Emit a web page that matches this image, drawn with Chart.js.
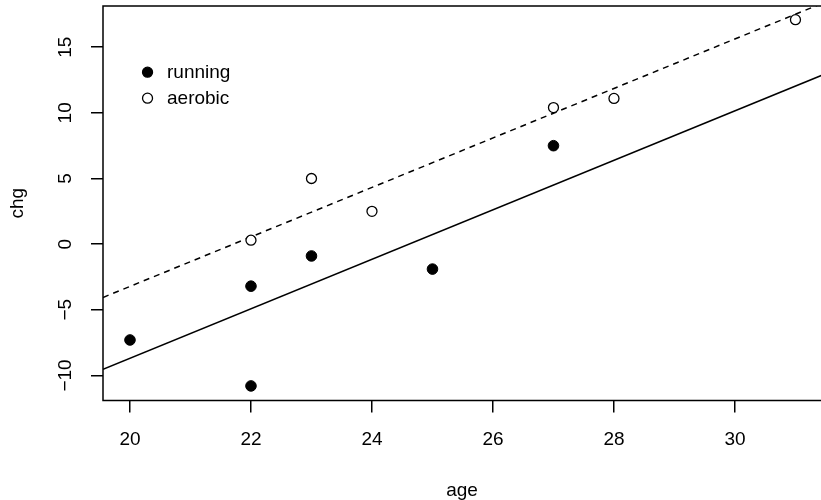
<!DOCTYPE html>
<html>
<head>
<meta charset="utf-8">
<script src="https://cdn.jsdelivr.net/npm/chart.js@4/dist/chart.umd.min.js"></script>
<style>
  html, body { margin: 0; padding: 0; background: #fff; overflow: hidden; }
  #wrap { width: 821px; height: 500px; }
</style>
</head>
<body>
<div id="wrap"><canvas id="c" width="821" height="500"></canvas></div>
<script>
// ---- data ----
const runningAge = [20, 22, 22, 23, 25, 27];
const runningChg = [-7.3, -10.8, -3.2, -0.9, -1.9, 7.5];
const aerobicAge = [22, 23, 24, 27, 28, 31];
const aerobicChg = [0.3, 5.0, 2.5, 10.4, 11.1, 17.1];
// fitted parallel lines (endpoints at the plot range)
const lineAge = [19.554, 31.438];
const runningFit = [-9.53, 12.87];
const aerobicFit = [-4.06, 18.34];
const xTicks = [20, 22, 24, 26, 28, 30];
const yTicks = [-10, -5, 0, 5, 10, 15];
const xRange = [19.554, 31.422];   // right edge of the plot box lies just past the picture
const yRange = [-11.91, 18.14];
const seriesNames = ['running', 'aerobic'];

const FONT = '"Liberation Sans", Arial, Helvetica, sans-serif';
const zip = (xs, ys) => xs.map((x, i) => ({ x: x, y: ys[i] }));

// R-style box: left, top and bottom sides (the right side is off-picture)
const boxPlugin = {
  id: 'box',
  afterDraw(chart) {
    const { ctx, chartArea: a } = chart;
    ctx.save();
    ctx.strokeStyle = '#000';
    ctx.lineWidth = 1.5;
    ctx.beginPath();
    ctx.moveTo(a.right + 2, a.top);
    ctx.lineTo(a.left, a.top);
    ctx.lineTo(a.left, a.bottom);
    ctx.lineTo(a.right + 2, a.bottom);
    ctx.stroke();
    ctx.restore();
  }
};

const legendPlugin = {
  id: 'rlegend',
  afterDraw(chart) {
    const { ctx } = chart;
    const xs = chart.scales.x, ys = chart.scales.y;
    const px = xs.getPixelForValue(20.29);
    const tx = px + 19.5;
    const y0 = ys.getPixelForValue(13.1);
    const step = 26;
    ctx.save();
    ctx.font = '19px ' + FONT;
    ctx.textBaseline = 'middle';
    ctx.textAlign = 'left';
    [0, 1].forEach(i => {
      const ds = chart.data.datasets[i];
      const y = y0 + i * step;
      ctx.beginPath();
      ctx.arc(px, y, 5, 0, Math.PI * 2);
      ctx.fillStyle = ds.pointBackgroundColor;
      ctx.fill();
      ctx.lineWidth = 1.3;
      ctx.strokeStyle = '#000';
      ctx.stroke();
      ctx.fillStyle = '#000';
      ctx.fillText(ds.label, tx, y + 1);
    });
    ctx.restore();
  }
};

new Chart(document.getElementById('c'), {
  type: 'scatter',
  data: {
    datasets: [
      { label: seriesNames[0], data: zip(runningAge, runningChg),
        pointRadius: 5.3, pointBackgroundColor: '#000', pointBorderColor: '#000', pointBorderWidth: 1, showLine: false },
      { label: seriesNames[1], data: zip(aerobicAge, aerobicChg),
        pointRadius: 5, pointBackgroundColor: '#fff', pointBorderColor: '#000', pointBorderWidth: 1.3, showLine: false },
      { label: 'fit running', data: zip(lineAge, runningFit), showLine: true, pointRadius: 0,
        borderColor: '#000', borderWidth: 1.5 },
      { label: 'fit aerobic', data: zip(lineAge, aerobicFit), showLine: true, pointRadius: 0,
        borderColor: '#000', borderWidth: 1.5, borderDash: [6, 5] }
    ]
  },
  options: {
    responsive: false,
    animation: false,
    layout: { autoPadding: false, padding: { top: 6, right: 0, left: 0, bottom: 0 } },
    plugins: { legend: { display: false }, tooltip: { enabled: false } },
    scales: {
      x: {
        type: 'linear', min: xRange[0], max: xRange[1],
        afterBuildTicks: s => { s.ticks = xTicks.map(v => ({ value: v })); },
        afterFit: s => { s.height = 99.5; s.paddingLeft = 0; s.paddingRight = 0; },
        grid: { display: true, drawOnChartArea: false, drawTicks: true, tickLength: 12, color: '#000', lineWidth: 1.5 },
        border: { display: false },
        ticks: { color: '#000', font: { family: FONT, size: 19 }, padding: 16, maxRotation: 0 },
        title: { display: true, text: 'age', color: '#000', font: { family: FONT, size: 19 }, padding: { top: 20, bottom: -2 } }
      },
      y: {
        type: 'linear', min: yRange[0], max: yRange[1],
        afterBuildTicks: s => { s.ticks = yTicks.map(v => ({ value: v })); },
        afterFit: s => { s.width = 103; s.paddingTop = 0; s.paddingBottom = 0; },
        grid: { display: true, drawOnChartArea: false, drawTicks: true, tickLength: 12, color: '#000', lineWidth: 1.5 },
        border: { display: false },
        ticks: { color: '#000', font: { family: FONT, size: 19 }, padding: 9, minRotation: 90, maxRotation: 90,
                 crossAlign: 'center', callback: v => (v < 0 ? '\u2212' + Math.abs(v) : '' + v) },
        title: { display: true, text: 'chg', color: '#000', font: { family: FONT, size: 19 }, padding: { top: 6, bottom: 0 } }
      }
    }
  },
  plugins: [boxPlugin, legendPlugin]
});
</script>
</body>
</html>
